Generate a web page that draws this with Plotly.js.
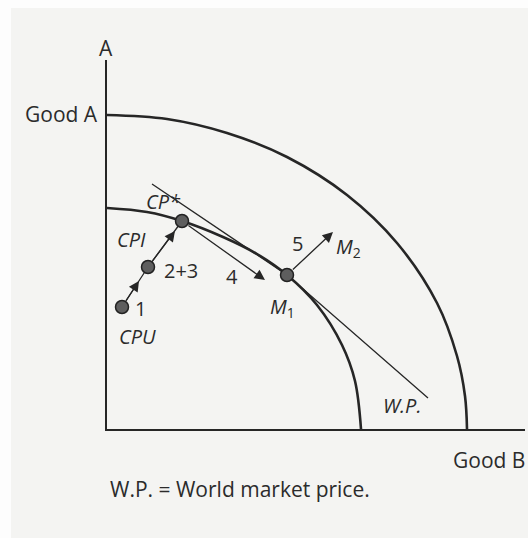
<!DOCTYPE html>
<html>
<head>
<meta charset="utf-8">
<script src="https://cdn.plot.ly/plotly-3.0.1.min.js"></script>
<style>html,body{margin:0;padding:0;background:#f4f4f2;}</style>
</head>
<body>
<div id="chart" style="width:528px;height:538px;"></div>
<script>
// Outer production possibility frontier (after growth)
var outerX = [0, 60, 120, 180, 240, 290, 330, 350, 358, 360];
var outerY = [314, 310, 296, 272, 234, 186, 126, 73, 33, 0];
// Inner production possibility frontier
var innerX = [0, 40, 75, 116, 150, 180, 210, 235, 248, 254];
var innerY = [221, 217, 208, 192, 175, 154, 124, 84, 48, 0];
// World market price line
var wpX = [45, 180, 321];
var wpY = [245, 154, 31];
// Path points CPU -> 2+3 -> CP*
var pathX = [15, 41, 75];
var pathY = [122, 162, 208];
// Other point M1
var m1X = [180];
var m1Y = [154];
// Arrows: tail -> head
var arrowTailX = [15, 41, 75, 180];
var arrowTailY = [122, 162, 208, 154];
var arrowHeadX = [32, 68, 158, 226];
var arrowHeadY = [148, 198, 149, 197];

var ink = '#262626';
var fontFam = '"Open Sans", "DejaVu Sans", sans-serif';
var traces = [
  {x: outerX, y: outerY, mode: 'lines', line: {color: ink, width: 2.6, shape: 'spline'}, hoverinfo: 'skip'},
  {x: innerX, y: innerY, mode: 'lines', line: {color: ink, width: 2.6, shape: 'spline'}, hoverinfo: 'skip'},
  {x: wpX, y: wpY, mode: 'lines', line: {color: ink, width: 1.3}, hoverinfo: 'skip'},
  {x: pathX, y: pathY, mode: 'lines', line: {color: ink, width: 1.3}, hoverinfo: 'skip'},
  {x: pathX.concat(m1X), y: pathY.concat(m1Y), mode: 'markers',
   marker: {size: 13, color: '#5e5e5e', line: {color: '#222', width: 1.5}}, hoverinfo: 'skip'}
];

var annotations = [];
for (var i = 0; i < arrowTailX.length; i++) {
  annotations.push({x: arrowHeadX[i], y: arrowHeadY[i], ax: arrowTailX[i], ay: arrowTailY[i],
    xref: 'x', yref: 'y', axref: 'x', ayref: 'y', text: '', showarrow: true,
    arrowhead: 2, arrowsize: 1.6, arrowwidth: 1.3, arrowcolor: ink, standoff: 0, startstandoff: 6});
}
function lab(t, x, y, ref, xa, sz) {
  annotations.push({text: t, x: x, y: y, xref: ref, yref: (ref === 'x' ? 'y' : ref), showarrow: false,
    xanchor: xa || 'center', yanchor: 'middle', font: {family: fontFam, size: sz || 20, color: '#2b2b2b'}});
}
lab('<i>CP*</i>', 56, 228, 'x');
lab('<i>CPI</i>', 24, 190, 'x');
lab('2+3', 74, 159, 'x');
lab('1', 33, 121, 'x');
lab('<i>CPU</i>', 30, 93, 'x');
lab('4', 125, 153, 'x');
lab('<i>M</i><sub>1</sub>', 175, 122, 'x');
lab('5', 190, 186, 'x');
lab('<i>M</i><sub>2</sub>', 241, 182, 'x');
lab('<i>W.P.</i>', 295, 24, 'x');
lab('A', -0.002, 1.0325, 'paper', 'center', 21);
lab('Good A', -0.0167, 0.8537, 'paper', 'right', 21);
lab('Good B', 0.913, -0.084, 'paper', 'center', 21);
lab('W.P. = World market price.', 0.0024, -0.1626, 'paper', 'left', 21);

var layout = {
  width: 528, height: 538,
  margin: {l: 107, r: 3, t: 60, b: 109},
  paper_bgcolor: '#f4f4f2', plot_bgcolor: '#f4f4f2',
  showlegend: false,
  shapes: [
    {type: 'rect', xref: 'paper', yref: 'paper', x0: -0.26, x1: -0.2297, y0: -0.35, y1: 1.2,
     fillcolor: '#fdfdfd', line: {width: 0}, layer: 'below'},
    {type: 'rect', xref: 'paper', yref: 'paper', x0: -0.26, x1: 1.01, y0: 1.1409, y1: 1.2,
     fillcolor: '#fdfdfd', line: {width: 0}, layer: 'below'}
  ],
  xaxis: {range: [0, 418], showline: true, linecolor: ink, linewidth: 2, showgrid: false,
          zeroline: false, showticklabels: false, ticks: '', fixedrange: true},
  yaxis: {range: [0, 369], showline: true, linecolor: ink, linewidth: 2, showgrid: false,
          zeroline: false, showticklabels: false, ticks: '', fixedrange: true},
  annotations: annotations,
  font: {family: fontFam}
};
Plotly.newPlot('chart', traces, layout, {displayModeBar: false, staticPlot: true});
</script>
</body>
</html>
